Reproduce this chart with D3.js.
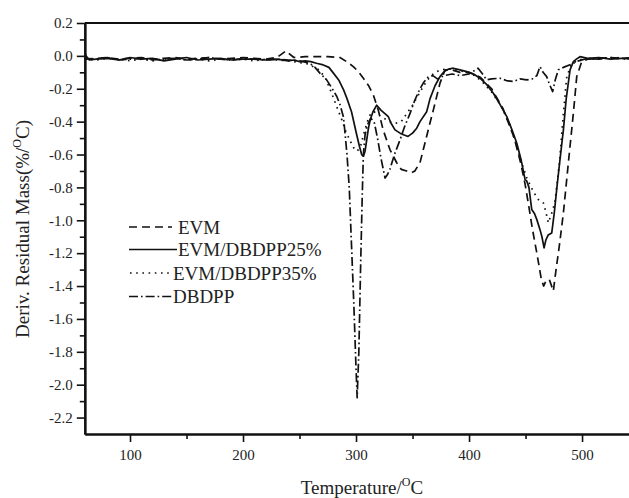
<!DOCTYPE html>
<html><head><meta charset="utf-8">
<script src="https://cdn.jsdelivr.net/npm/d3@7"></script>
<style>html,body{margin:0;padding:0;background:#fff;}svg{display:block;}</style>
</head><body>
<svg id="chart" width="629" height="498"></svg>
<script>
const xTicksMajor = [100, 200, 300, 400, 500];
const xTicksMinor = [150, 250, 350, 450];
const yTicksMajor = [0.2, 0.0, -0.2, -0.4, -0.6, -0.8, -1.0, -1.2, -1.4, -1.6, -1.8, -2.0, -2.2];
const yTicksMinor = [0.1, -0.1, -0.3, -0.5, -0.7, -0.9, -1.1, -1.3, -1.5, -1.7, -1.9, -2.1];
const seriesNames = ["EVM", "EVM/DBDPP25%", "EVM/DBDPP35%", "DBDPP"];

const evmT = [60,70,80,90,100,110,120,130,140,150,160,170,180,190,200,210,220,230,238,245,255,265,275,285.8,291.7,297.6,302,306.5,311,315.3,319.7,324,330,336,340,344.8,349.3,352,356.6,361,365,368.4,374.3,378.8,385,392,400,410,420,430,440,446,449.6,453,456,460,464,466,468,471,474.6,477,480,483.5,487.9,492.3,495.3,499.7,505,515,525,535,545,555];
const evmV = [-0.02,-0.015,-0.01,-0.02,-0.015,-0.01,-0.02,-0.015,-0.01,-0.02,-0.015,-0.01,-0.02,-0.015,-0.01,-0.015,-0.02,-0.01,0.03,-0.01,-0.005,-0.005,-0.005,-0.01,-0.035,-0.065,-0.095,-0.136,-0.18,-0.237,-0.33,-0.45,-0.57,-0.65,-0.69,-0.70,-0.71,-0.70,-0.65,-0.53,-0.42,-0.33,-0.166,-0.085,-0.085,-0.10,-0.10,-0.13,-0.20,-0.32,-0.50,-0.66,-0.78,-0.92,-1.05,-1.2,-1.36,-1.40,-1.37,-1.36,-1.43,-1.30,-1.15,-0.955,-0.65,-0.35,-0.126,-0.035,-0.02,-0.015,-0.01,-0.02,-0.01,-0.015];

const m25T = [59,61,64,70,80,90,100,110,120,130,140,150,160,170,180,190,200,210,220,230,240,245,250,255,260,265,271,276,280,285,289,292,296,300.6,303,305,306.5,308,309.5,311,312.5,315,318.3,322,328.6,331,334.5,339,342,346,350,353.7,356.6,362.5,365.5,370,374.3,378,382,386,392,398,404,409.7,415,421.5,427,433.4,438,442.2,446,449.6,451,453,455.5,458,460,462.8,464.5,466.4,468,470,473.2,475.5,477.6,480,483.5,486,489.4,492.3,495,498.2,505,515,525,535,545,555];
const m25V = [0.045,0.0,-0.025,-0.02,-0.015,-0.025,-0.01,-0.02,-0.015,-0.03,-0.02,-0.01,-0.025,-0.02,-0.015,-0.025,-0.02,-0.02,-0.025,-0.02,-0.03,-0.025,-0.035,-0.03,-0.035,-0.045,-0.055,-0.07,-0.105,-0.15,-0.207,-0.26,-0.34,-0.48,-0.55,-0.60,-0.61,-0.58,-0.51,-0.44,-0.39,-0.34,-0.30,-0.33,-0.37,-0.41,-0.45,-0.47,-0.48,-0.49,-0.47,-0.44,-0.40,-0.34,-0.26,-0.18,-0.126,-0.095,-0.08,-0.075,-0.085,-0.096,-0.11,-0.136,-0.17,-0.227,-0.29,-0.369,-0.45,-0.53,-0.63,-0.753,-0.76,-0.80,-0.935,-0.96,-0.996,-1.057,-1.10,-1.168,-1.12,-1.09,-1.077,-0.95,-0.81,-0.66,-0.45,-0.26,-0.085,-0.035,-0.02,-0.005,-0.015,-0.01,-0.02,-0.015,-0.01,-0.015];

const m35T = [60,70,80,90,100,110,120,130,140,150,160,170,180,190,200,210,220,230,240,250,258,263,267,272.6,278,283,287.5,291,295,298,301,304,307,310,313,316,320,325,330,335,340,345,350,356.6,361,365.5,370,375,380,386,392,398,405,412,420,428,435,440,443.6,447,451,455,459,462,465.8,468,470.2,473,476,480,483.5,486.5,490,495,500,510,520,530,540,550];
const m35V = [-0.02,-0.025,-0.015,-0.02,-0.03,-0.02,-0.03,-0.02,-0.015,-0.025,-0.02,-0.03,-0.02,-0.025,-0.02,-0.03,-0.02,-0.025,-0.03,-0.04,-0.05,-0.07,-0.085,-0.13,-0.22,-0.31,-0.39,-0.46,-0.52,-0.56,-0.58,-0.55,-0.47,-0.40,-0.35,-0.34,-0.36,-0.38,-0.40,-0.41,-0.40,-0.35,-0.30,-0.22,-0.17,-0.126,-0.10,-0.085,-0.08,-0.08,-0.09,-0.10,-0.12,-0.16,-0.22,-0.30,-0.40,-0.50,-0.58,-0.66,-0.74,-0.80,-0.85,-0.88,-0.895,-0.95,-1.016,-0.96,-0.89,-0.65,-0.35,-0.126,-0.06,-0.03,-0.02,-0.02,-0.015,-0.01,-0.02,-0.015];

const dbT = [60,70,80,90,100,110,120,130,140,150,160,170,180,190,200,210,220,230,240,250,256,260,263.7,268,274,279,283,286,288.8,290,292,294,296,298,300,301,302.5,304,305.5,306.5,308,310,313,316,319,322,325.7,328,330,334,339,343,347.8,352,356.6,360,364,368,372,378,385,392,400,408,412,415.6,420,427.4,433,439.2,445,451,456,460,462.8,465.5,468.7,471,474,476.5,479,483.5,490.8,497,505,515,525,535,545,555];
const dbV = [-0.015,-0.02,-0.01,-0.025,-0.02,-0.015,-0.025,-0.02,-0.015,-0.025,-0.02,-0.01,-0.02,-0.025,-0.015,-0.02,-0.025,-0.02,-0.025,-0.03,-0.04,-0.05,-0.07,-0.105,-0.146,-0.2,-0.247,-0.30,-0.37,-0.45,-0.6,-0.8,-1.15,-1.5,-1.9,-2.08,-1.8,-1.3,-0.85,-0.6,-0.48,-0.42,-0.38,-0.40,-0.50,-0.62,-0.743,-0.72,-0.69,-0.60,-0.51,-0.43,-0.35,-0.27,-0.2,-0.16,-0.126,-0.12,-0.14,-0.12,-0.11,-0.12,-0.11,-0.075,-0.11,-0.146,-0.14,-0.136,-0.15,-0.156,-0.14,-0.146,-0.14,-0.12,-0.065,-0.10,-0.126,-0.17,-0.217,-0.14,-0.085,-0.07,-0.05,-0.03,-0.015,-0.02,-0.01,-0.015,-0.02,-0.015];

const svg = d3.select("#chart");
const FONT = "'Liberation Serif','Times New Roman',serif";
const pL = 84.8, pR = 632.9, pT = 23, pB = 434;
const x = d3.scaleLinear().domain([60, 545]).range([pL, pR]);
const y = d3.scaleLinear().domain([-2.3, 0.2]).range([pB, pT]);

const dashes = ["8,5", null, "1.6,4.6", "9,3,1.6,3"];
const series = [[evmT, evmV], [m25T, m25V], [m35T, m35V], [dbT, dbV]];

svg.append("defs").append("clipPath").attr("id", "clip")
  .append("rect").attr("x", pL).attr("y", pT).attr("width", pR - pL).attr("height", pB - pT);

const line = d3.line().x(d => x(d[0])).y(d => y(d[1]));
const g = svg.append("g").attr("clip-path", "url(#clip)");
series.forEach((s, i) => {
  const pts = s[0].map((t, k) => [t, s[1][k]]);
  g.append("path").datum(pts).attr("d", line)
    .attr("fill", "none").attr("stroke", "#111").attr("stroke-width", 1.7)
    .attr("stroke-dasharray", dashes[i]).attr("stroke-linejoin", "round");
});

const yAxis = d3.axisLeft(y).tickValues(yTicksMajor).tickFormat(d => d3.format(".1f")(d).replace("−", "-")).tickSize(8).tickSizeOuter(0);
const yMinor = d3.axisLeft(y).tickValues(yTicksMinor).tickFormat("").tickSize(5).tickSizeOuter(0);
const xAxis = d3.axisBottom(x).tickValues(xTicksMajor).tickFormat(d3.format("d")).tickSize(8).tickSizeOuter(0);
const xMinor = d3.axisBottom(x).tickValues(xTicksMinor).tickFormat("").tickSize(5).tickSizeOuter(0);

function style(sel) {
  sel.selectAll("path.domain").attr("stroke", "#111").attr("stroke-width", 2.2);
  sel.selectAll(".tick line").attr("stroke", "#111").attr("stroke-width", 1.6);
  sel.selectAll(".tick text").attr("font-family", FONT).attr("font-size", 15).attr("fill", "#222");
}
const gy = svg.append("g").attr("transform", `translate(${pL},0)`).call(yAxis).call(style);
gy.selectAll(".tick text").attr("x", -12);
svg.append("g").attr("transform", `translate(${pL},0)`).call(yMinor).call(style);
const gx = svg.append("g").attr("transform", `translate(0,${pB})`).call(xAxis).call(style);
gx.selectAll(".tick text").attr("dy", null).attr("y", 26);
svg.append("g").attr("transform", `translate(0,${pB})`).call(xMinor).call(style);
svg.append("line").attr("x1", pL).attr("x2", pR).attr("y1", pT).attr("y2", pT)
  .attr("stroke", "#111").attr("stroke-width", 2.2);

const xt = svg.append("text").attr("x", 362).attr("y", 494).attr("text-anchor", "middle")
  .attr("font-family", FONT).attr("font-size", 19).attr("fill", "#222");
xt.append("tspan").text("Temperature/");
xt.append("tspan").text("O").attr("font-size", 12).attr("dy", -8);
xt.append("tspan").text("C").attr("dy", 8);

const yt = svg.append("text").attr("transform", "translate(29,229) rotate(-90)").attr("text-anchor", "middle")
  .attr("font-family", FONT).attr("font-size", 19).attr("fill", "#222");
yt.append("tspan").text("Deriv. Residual Mass(%/");
yt.append("tspan").text("O").attr("font-size", 12).attr("dy", -8);
yt.append("tspan").text("C)").attr("dy", 8);

const legY = [227, 249.5, 273, 296.5];
const legX1 = [129, 129, 130, 129], legX2 = [172, 177, 171, 172], legTX = [178, 178, 173, 173];
seriesNames.forEach((name, i) => {
  svg.append("line").attr("x1", legX1[i]).attr("x2", legX2[i]).attr("y1", legY[i]).attr("y2", legY[i])
    .attr("stroke", "#111").attr("stroke-width", 1.7).attr("stroke-dasharray", dashes[i]);
  svg.append("text").attr("x", legTX[i]).attr("y", legY[i] + 6.5).text(name)
    .attr("font-family", FONT).attr("font-size", 19).attr("fill", "#222");
});
</script>
</body></html>
